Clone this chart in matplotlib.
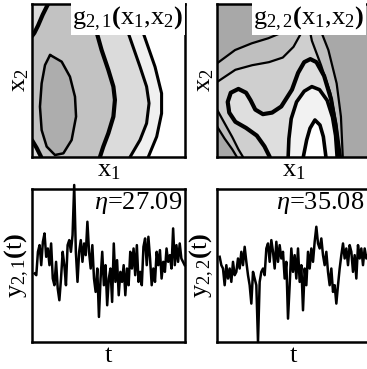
import numpy as np
import matplotlib
matplotlib.use("Agg")
import matplotlib.pyplot as plt

plt.rcParams["font.family"] = "Liberation Serif"
plt.rcParams["mathtext.fontset"] = "custom"
plt.rcParams["mathtext.rm"] = "Liberation Serif"
plt.rcParams["mathtext.it"] = "Liberation Serif:italic"
plt.rcParams["mathtext.bf"] = "Liberation Serif:bold"

# ---- g_{2,1}: level curves on the unit square (x1, x2) ----
g21_corner_top = [(0.105, 1.0), (0.07, 0.93), (0.04, 0.86), (0.015, 0.81), (0.0, 0.79)]
g21_corner_bot = [(0.0, 0.11), (0.03, 0.06), (0.06, 0.0)]
g21_ellipse = [(0.118, 0.667), (0.194, 0.623), (0.248, 0.525), (0.281, 0.394),
               (0.288, 0.264), (0.259, 0.111), (0.205, 0.024), (0.150, 0.013),
               (0.096, 0.068), (0.063, 0.176), (0.052, 0.329), (0.063, 0.481),
               (0.085, 0.601), (0.118, 0.667)]
g21_mid = [(0.375, 1.0), (0.412, 0.852), (0.455, 0.699), (0.499, 0.569), (0.532, 0.460),
           (0.542, 0.373), (0.532, 0.264), (0.499, 0.155), (0.466, 0.068), (0.444, 0.0)]
g21_right1 = [(0.553, 1.0), (0.630, 0.808), (0.706, 0.590), (0.749, 0.460), (0.765, 0.351),
              (0.749, 0.220), (0.706, 0.111), (0.641, 0.0)]
g21_right2 = [(0.651, 1.0), (0.728, 0.808), (0.804, 0.590), (0.847, 0.416), (0.847, 0.285),
              (0.815, 0.133), (0.760, 0.0)]

# ---- g_{2,2}: level curves ----
g22_l1_left = [(0.0, 0.612), (0.118, 0.699), (0.227, 0.743), (0.335, 0.776),
               (0.412, 0.808), (0.444, 0.874), (0.455, 1.0)]
g22_l1_right = [(0.60, 1.0), (0.651, 0.895), (0.728, 0.699), (0.782, 0.481),
                (0.810, 0.264), (0.822, 0.0)]
g22_l1_corner = [(0.0, 0.20), (0.05, 0.12), (0.10, 0.05), (0.13, 0.0)]
g22_l2 = [(0.0, 0.49), (0.12, 0.57), (0.23, 0.60), (0.34, 0.62), (0.43, 0.65),
          (0.50, 0.72), (0.55, 0.81), (0.58, 0.88), (0.60, 0.86), (0.62, 0.76),
          (0.68, 0.60), (0.74, 0.42), (0.78, 0.22), (0.81, 0.0)]
g22_l2_corner = [(0.0, 0.31), (0.05, 0.22), (0.10, 0.13), (0.14, 0.05), (0.17, 0.0)]
g22_lobe = [(0.345, 0.0), (0.31, 0.07), (0.26, 0.14), (0.19, 0.19), (0.12, 0.23),
            (0.08, 0.29), (0.07, 0.36), (0.09, 0.42), (0.14, 0.445), (0.19, 0.42),
            (0.22, 0.37), (0.25, 0.31), (0.30, 0.28), (0.36, 0.29), (0.42, 0.33),
            (0.49, 0.44), (0.53, 0.55), (0.57, 0.62), (0.61, 0.64), (0.65, 0.62),
            (0.70, 0.53), (0.745, 0.38), (0.775, 0.2), (0.795, 0.0)]
g22_arch = [(0.465, 0.0), (0.47, 0.12), (0.485, 0.25), (0.52, 0.36), (0.57, 0.43),
            (0.62, 0.46), (0.67, 0.44), (0.72, 0.37), (0.755, 0.26), (0.775, 0.14),
            (0.785, 0.0)]
g22_peak = [(0.564, 0.0), (0.586, 0.111), (0.608, 0.188), (0.64, 0.242),
            (0.673, 0.209), (0.695, 0.133), (0.712, 0.0)]

# ---- outputs y_{2,1}(t), y_{2,2}(t) ----
y21 = [205, 200, 270, 290, 230, 300, 325, 255, 280, 230, 295, 190, 170, 240, 160, 125,
       190, 270, 230, 170, 290, 305, 270, 320, 470, 270, 180, 270, 305, 240, 295, 260,
       360, 270, 220, 290, 190, 150, 220, 75, 190, 270, 170, 230, 110, 190, 220, 120,
       295, 180, 245, 140, 210, 180, 230, 140, 220, 170, 270, 220, 280, 200, 290, 180,
       210, 170, 285, 310, 230, 315, 250, 170, 220, 180, 270, 230, 275, 190, 240, 210,
       280, 240, 260, 220, 340, 230, 290, 240, 295, 250, 240, 230]
y22 = [255, 230, 220, 170, 230, 190, 220, 180, 240, 200, 210, 250, 220, 270, 230, 285,
       240, 200, 170, 115, 210, 190, 170, 0, 180, 210, 220, 200, 280, 295, 240, 305,
       270, 220, 300, 240, 290, 250, 270, 190, 240, 70, 170, 280, 210, 260, 190, 280,
       180, 230, 95, 220, 170, 270, 220, 280, 240, 300, 345, 295, 280, 310, 260, 230,
       270, 210, 170, 220, 150, 170, 115, 170, 220, 260, 295, 250, 280, 230, 290, 270,
       210, 260, 190, 290, 250, 280, 230, 280, 250, 260, 255]
eta = [27.09, 35.08]

FS = 19


def fill(ax, pts, color):
    p = np.array(pts)
    ax.fill(p[:, 0], p[:, 1], color=color, lw=0)


def line(ax, pts, lw):
    p = np.array(pts)
    ax.plot(p[:, 0], p[:, 1], color="k", lw=lw, solid_joinstyle="round",
            solid_capstyle="round")


def style(ax):
    ax.set_xticks([])
    ax.set_yticks([])
    for s in ax.spines.values():
        s.set_linewidth(1.8)


def surface_axes(ax, bg, name, right):
    ax.set_facecolor(bg)
    ax.set_xlim(0, 1)
    ax.set_ylim(0, 1)
    style(ax)
    ax.set_xlabel(r"x$_1$", fontsize=FS, labelpad=2)
    ax.set_ylabel(r"x$_2$", fontsize=FS, labelpad=1)
    ax.text(right, 0.995, name, transform=ax.transAxes, ha="right", va="top",
            fontsize=FS, zorder=10,
            bbox=dict(fc="white", ec="none", pad=1.0))


fig = plt.figure(figsize=(3.67, 3.69), dpi=100)
W, H = 367, 369
ax1 = fig.add_axes([32 / W, (H - 157) / H, 153 / W, 153 / H])
ax2 = fig.add_axes([217 / W, (H - 157) / H, 153 / W, 153 / H])
ax3 = fig.add_axes([32 / W, (H - 342) / H, 153 / W, 153 / H])
ax4 = fig.add_axes([217 / W, (H - 342) / H, 153 / W, 153 / H])

# g_{2,1}
fill(ax1, g21_corner_top + [(0.0, 1.0)], "0.86")
fill(ax1, g21_corner_bot + [(0.0, 0.0)], "0.86")
fill(ax1, g21_ellipse, "0.68")
fill(ax1, g21_mid + [(1.0, 0.0), (1.0, 1.0)], "0.86")
fill(ax1, g21_right1 + [(1.0, 0.0), (1.0, 1.0)], "0.94")
fill(ax1, g21_right2 + [(1.0, 0.0), (1.0, 1.0)], "white")
line(ax1, g21_corner_top, 3.0)
line(ax1, g21_corner_bot, 3.0)
line(ax1, g21_ellipse, 1.8)
line(ax1, g21_mid, 3.0)
line(ax1, g21_right1, 2.2)
line(ax1, g21_right2, 2.2)
surface_axes(ax1, "0.76", r"g$_{2,1}$$\mathbf{(}$x$_1$,x$_2$$\mathbf{)}$", 0.99)

# g_{2,2}
fill(ax2, g22_l1_left + g22_l1_right + g22_l1_corner[::-1], "0.75")
fill(ax2, g22_l2 + g22_l2_corner[::-1], "0.81")
fill(ax2, g22_lobe, "0.87")
fill(ax2, g22_arch, "0.95")
fill(ax2, g22_peak, "white")
line(ax2, g22_l1_left, 1.6)
line(ax2, g22_l1_right, 1.6)
line(ax2, g22_l1_corner, 1.6)
line(ax2, g22_l2, 1.6)
line(ax2, g22_l2_corner, 1.6)
line(ax2, g22_lobe, 3.0)
line(ax2, g22_arch, 2.6)
line(ax2, g22_peak, 2.6)
surface_axes(ax2, "0.66", r"g$_{2,2}$$\mathbf{(}$x$_1$,x$_2$$\mathbf{)}$", 0.965)

# time series
for ax, y, e, lab, right in [(ax3, y21, eta[0], r"y$_{2,1}$$\mathbf{(}$t$\mathbf{)}$", 0.985),
                             (ax4, y22, eta[1], r"y$_{2,2}$$\mathbf{(}$t$\mathbf{)}$", 0.965)]:
    t = np.arange(len(y))
    ax.plot(t, y, color="k", lw=1.8, clip_on=False)
    ax.set_xlim(-1.6, len(y) - 0.8)
    ax.set_ylim(0, 458)
    style(ax)
    ax.set_xlabel("t", fontsize=FS, labelpad=2)
    ax.set_ylabel(lab, fontsize=FS, labelpad=1)
    ax.text(right, 0.995, r"$\eta$=%.2f" % e, transform=ax.transAxes,
            ha="right", va="top", fontsize=FS)

fig.savefig("out.png", dpi=100)
